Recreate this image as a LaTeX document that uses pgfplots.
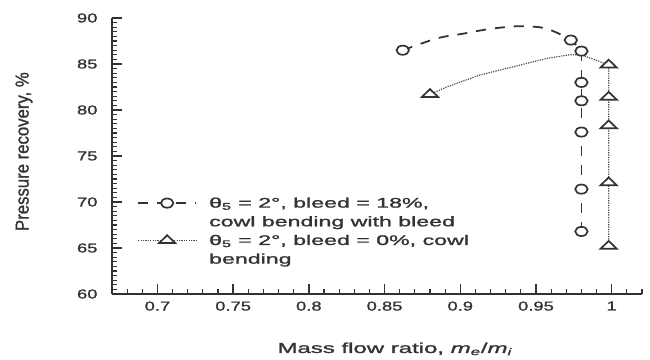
\documentclass[border=0pt]{standalone}
\usepackage{fontspec}
\setmainfont{Liberation Sans}[FakeBold=1.2]
\usepackage{pgfplots}
\pgfplotsset{compat=1.18}
\definecolor{ink}{HTML}{333333}
\newcommand\sx[1]{\rule[-3.5bp]{0pt}{14bp}\scalebox{1.66}[1]{#1}}
\newcommand\st[1]{\scalebox{1.42}[1]{#1}}
\pgfplotsset{
  dl/.style={ink, line width=1.8bp, dash pattern=on 10bp off 9bp},
  dt/.style={ink!90, line width=1.2bp, dash pattern=on 1.2bp off 1.2bp},
  cm/.style={mark=*, mark size=4.6bp, mark options={solid, xscale=1.35, fill=white, draw=ink, line width=1.7bp}},
  tm/.style={mark=triangle*, mark size=5.2bp, mark options={solid, xscale=1.8, fill=white, draw=ink, line width=1.7bp}},
}
\begin{document}
\begin{tikzpicture}
\path[use as bounding box] (-112bp,-66bp) rectangle (538bp,294bp);
\begin{axis}[at={(0,0)}, anchor=south west, scale only axis,
  width=530bp, height=276bp,
  xmin=0.67, xmax=1.02, ymin=60, ymax=90,
  axis lines=left, axis line style={-, ink, line width=1.5bp},
  tick align=inside, major tick length=10bp, minor tick length=5.5bp,
  tick style={ink, line width=1.3bp},
  minor tick style={ink, line width=1.1bp},
  xtick={0.7,0.75,0.8,0.85,0.9,0.95,1},
  xticklabels={\st{0.7},\st{0.75},\st{0.8},\st{0.85},\st{0.9},\st{0.95},\st{1}},
  minor xtick={0.68,0.69,0.71,0.72,0.73,0.74,0.76,0.77,0.78,0.79,0.81,0.82,0.83,0.84,0.86,0.87,0.88,0.89,0.91,0.92,0.93,0.94,0.96,0.97,0.98,0.99,1.01,1.02},
  ytick={60,65,70,75,80,85,90},
  yticklabels={\st{60},\st{65},\st{70},\st{75},\st{80},\st{85},\st{90}},
  minor ytick={60.5,61,...,89.6},
  ticklabel style={font=\fontsize{13}{15}\selectfont, text=ink},
  yticklabel style={xshift=-11bp},
  xticklabel style={yshift=-4bp},
  xlabel={\scalebox{1.66}[1]{Mass flow ratio, \textit{m}\textsubscript{\textit{e}}/\textit{m}\textsubscript{\textit{i}}}},
  xlabel style={at={(axis description cs:0.534,-0.199)}, anchor=center, font=\fontsize{14.5}{17}\selectfont, text=ink},
  ylabel={\scalebox{1.2}[1.35]{Pressure recovery, \%}},
  ylabel style={at={(axis description cs:-0.166,0.516)}, anchor=center, font=\fontsize{14}{16}\selectfont, text=ink},
  legend image code/.code={%
    \begin{pgfinterruptboundingbox}
    \draw[mark repeat=2,mark phase=2,#1] plot coordinates {(0bp,0bp) (29bp,0bp) (58bp,0bp)};
    \end{pgfinterruptboundingbox}
    \pgfpathrectangle{\pgfpoint{0bp}{-6bp}}{\pgfpoint{58bp}{12bp}}\pgfusepath{discard}},
  legend style={draw=none, fill=none, inner sep=0pt,
    at={(axis description cs:0.049,0.359)}, anchor=north west,
    row sep=2.7bp, column sep=11bp,
    font=\fontsize{14}{17}\selectfont, text=ink,
    cells={anchor=west, inner sep=2bp}},
]
% dashed series lines
\addplot[dl, smooth, tension=0.5, forget plot] coordinates {
 (0.862,86.5) (0.885,87.8) (0.902,88.3) (0.919,88.8) (0.937,89.1) (0.952,89.0) (0.961,88.6) (0.973,87.6) (0.980,86.4)};
\addplot[dl, forget plot] coordinates {(0.980,86.4) (0.980,66.8)};
% dotted series lines
\addplot[dt, forget plot] coordinates {
 (0.880,81.7) (0.891,82.5) (0.913,83.8) (0.935,84.7) (0.957,85.6) (0.972,86.0) (0.980,86.0) (0.998,84.9) (0.998,65.2)};
% markers
\addplot[cm, only marks, forget plot] coordinates {
 (0.862,86.5) (0.973,87.6) (0.980,86.4) (0.980,83.0) (0.980,81.0) (0.980,77.6) (0.980,71.4) (0.980,66.8)};
\addplot[tm, only marks, forget plot] coordinates {
 (0.880,81.7) (0.998,84.9) (0.998,81.4) (0.998,78.3) (0.998,72.1) (0.998,65.2)};
\addlegendimage{dl, cm}
\addlegendentry{\sx{θ\textsubscript{5} = 2°, bleed = 18\%,}}
\addlegendimage{empty legend}
\addlegendentry{\sx{cowl bending with bleed}}
\addlegendimage{dt, tm}
\addlegendentry{\sx{θ\textsubscript{5} = 2°, bleed = 0\%, cowl}}
\addlegendimage{empty legend}
\addlegendentry{\sx{bending}}
\end{axis}
\end{tikzpicture}
\end{document}
